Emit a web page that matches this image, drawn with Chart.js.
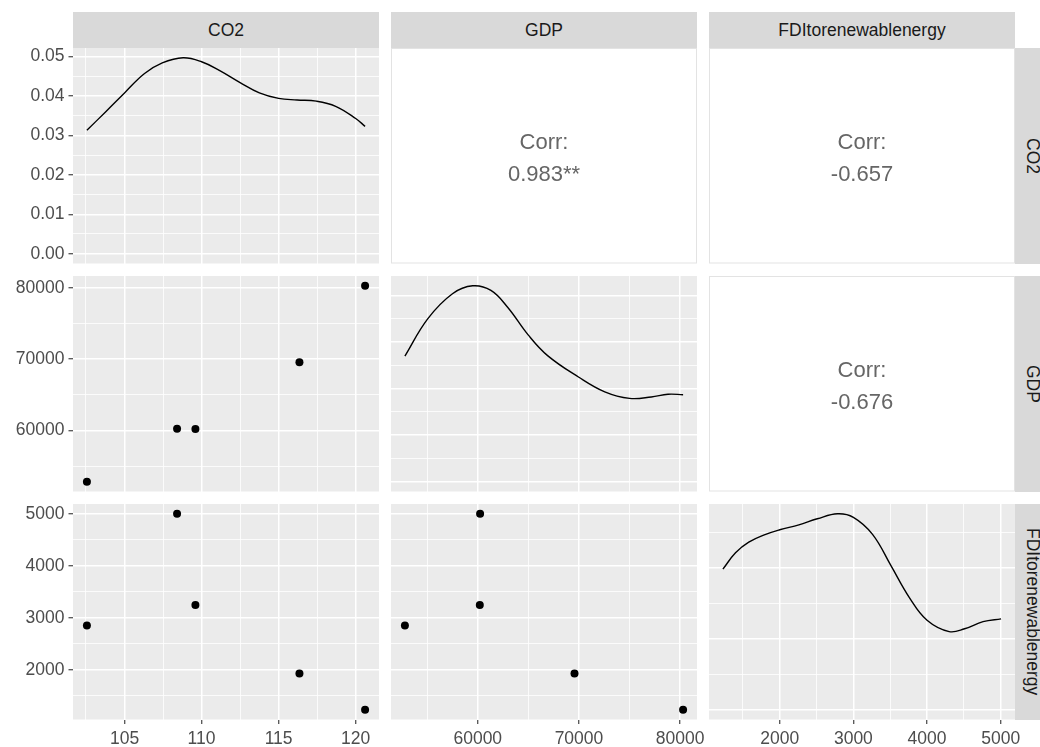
<!DOCTYPE html>
<html>
<head>
<meta charset="utf-8">
<title>Pairs plot: CO2, GDP, FDItorenewablenergy</title>
<script src="https://cdn.jsdelivr.net/npm/chart.js@4.4.1/dist/chart.umd.min.js"></script>
<style>
  html, body { margin: 0; padding: 0; background: #ffffff; overflow: hidden; }
  #wrap { position: relative; width: 1040px; height: 747px; overflow: hidden;
          font-family: "Liberation Sans", Arial, Helvetica, sans-serif; }
  #wrap canvas { position: absolute; left: 0; top: 0; }
  .strip { position: absolute; background: #D9D9D9; color: #1A1A1A; font-size: 17.5px;
           display: flex; align-items: center; justify-content: center; white-space: nowrap; }
  .strip.side { writing-mode: vertical-rl; }
</style>
</head>
<body>
<div id="wrap"></div>
<script>
// ---- variables (one value per observation) ----
const varNames = ['CO2', 'GDP', 'FDItorenewablenergy'];
const co2 = [102.56, 108.41, 109.60, 116.35, 120.61];
const gdp = [52800, 60230, 60200, 69560, 80290];
const fdi = [2854, 5005, 3245, 1929, 1229];

// correlation labels: CO2~GDP, CO2~FDI, GDP~FDI
const corrLabels = ['0.983**', '-0.657', '-0.676'];

// ---- kernel density curves shown on the diagonal ----
const co2DensX = [102.56, 103.8, 105.0, 106.3, 107.45, 108.8, 110.0, 111.15, 112.5, 113.75, 115.0, 116.2, 117.45, 118.7, 120.0, 120.61];
const co2DensY = [0.0313, 0.0361, 0.0408, 0.0457, 0.0484, 0.0497, 0.0487, 0.0465, 0.0434, 0.0408, 0.0394, 0.0390, 0.0387, 0.0374, 0.0343, 0.0323];

const gdpDensX = [52800, 55050, 57500, 59500, 61300, 62950, 65000, 66900, 69950, 72550, 75000, 77150, 78800, 80290];
const gdpDensY = [2.70e-5, 3.50e-5, 4.04e-5, 4.21e-5, 4.11e-5, 3.75e-5, 3.15e-5, 2.71e-5, 2.25e-5, 1.93e-5, 1.79e-5, 1.82e-5, 1.88e-5, 1.87e-5];

const fdiDensX = [1229, 1400, 1580, 1810, 2000, 2260, 2510, 2785, 3000, 3260, 3510, 3760, 4000, 4300, 4510, 4760, 5005];
const fdiDensY = [1.98e-4, 2.21e-4, 2.36e-4, 2.47e-4, 2.535e-4, 2.605e-4, 2.69e-4, 2.76e-4, 2.71e-4, 2.47e-4, 2.03e-4, 1.58e-4, 1.26e-4, 1.10e-4, 1.14e-4, 1.24e-4, 1.28e-4];

// ---- axis breaks and tick labels ----
const co2Breaks = [105, 110, 115, 120];
const co2Minor = [102.5, 107.5, 112.5, 117.5];
const co2Labels = ['105', '110', '115', '120'];

const gdpBreaks = [60000, 70000, 80000];
const gdpMinor = [55000, 65000, 75000];
const gdpLabels = ['60000', '70000', '80000'];

const fdiBreaks = [2000, 3000, 4000, 5000];
const fdiMinor = [1500, 2500, 3500, 4500];
const fdiLabels = ['2000', '3000', '4000', '5000'];

const co2DensBreaks = [0, 0.01, 0.02, 0.03, 0.04, 0.05];
const co2DensMinor = [0.005, 0.015, 0.025, 0.035, 0.045];
const co2DensLabels = ['0.00', '0.01', '0.02', '0.03', '0.04', '0.05'];

const gdpDensBreaks = [0, 1e-5, 2e-5, 3e-5, 4e-5];
const gdpDensMinor = [0.5e-5, 1.5e-5, 2.5e-5, 3.5e-5];

const fdiDensBreaks = [0, 1e-4, 2e-4];
const fdiDensMinor = [0.5e-4, 1.5e-4, 2.5e-4];

// ---- page geometry ----
const W = 1040, H = 747;
const colX = [[73, 379], [391, 697], [709, 1015]];
const rowY = [[48, 263.5], [276, 491.5], [504, 719.5]];
const FONT = '"Liberation Sans", Arial, Helvetica, sans-serif';

function expand(lo, hi) {
  const d = (hi - lo) * 0.05;
  return [lo - d, hi + d];
}

const series = [
  { values: co2, breaks: co2Breaks, minor: co2Minor, labels: co2Labels,
    dx: co2DensX, dy: co2DensY, dBreaks: co2DensBreaks, dMinor: co2DensMinor, dLabels: co2DensLabels },
  { values: gdp, breaks: gdpBreaks, minor: gdpMinor, labels: gdpLabels,
    dx: gdpDensX, dy: gdpDensY, dBreaks: gdpDensBreaks, dMinor: gdpDensMinor, dLabels: gdpDensBreaks.map(String) },
  { values: fdi, breaks: fdiBreaks, minor: fdiMinor, labels: fdiLabels,
    dx: fdiDensX, dy: fdiDensY, dBreaks: fdiDensBreaks, dMinor: fdiDensMinor, dLabels: fdiDensBreaks.map(String) }
];
series.forEach(s => {
  s.range = expand(Math.min(...s.values), Math.max(...s.values));
  s.dRange = expand(0, Math.max(...s.dy));
});

// panel background, border and correlation text
const panelPlugin = {
  id: 'panel',
  beforeDraw(chart, args, o) {
    const { ctx, chartArea: a } = chart;
    ctx.save();
    ctx.fillStyle = o.fill;
    ctx.fillRect(a.left, a.top, a.right - a.left, a.bottom - a.top);
    if (o.border) {
      ctx.strokeStyle = o.border;
      ctx.lineWidth = 1;
      ctx.strokeRect(a.left + 0.5, a.top + 0.5, a.right - a.left - 1, a.bottom - a.top - 1);
    }
    ctx.restore();
  },
  afterDraw(chart, args, o) {
    if (!o.title) return;
    const { ctx, chartArea: a } = chart;
    const cx = (a.left + a.right) / 2, cy = (a.top + a.bottom) / 2;
    ctx.save();
    ctx.fillStyle = '#666666';
    ctx.font = '22px ' + FONT;
    ctx.textAlign = 'center';
    ctx.textBaseline = 'middle';
    ctx.fillText(o.title, cx, cy - 13);
    ctx.fillText(o.value, cx, cy + 19);
    ctx.restore();
  }
};

function axis(dir, range, major, minor, labels, show, size) {
  const all = major.concat(minor).sort((a, b) => a - b);
  const isMajor = c => c.tick && major.indexOf(c.tick.value) >= 0;
  return {
    type: 'linear',
    position: dir === 'x' ? 'bottom' : 'left',
    min: range[0], max: range[1], bounds: 'data',
    afterBuildTicks: s => { s.ticks = all.map(v => ({ value: v })); },
    afterFit: s => {
      if (dir === 'x') s.height = show ? size : 0;
      else s.width = show ? size : 0;
    },
    border: { display: false },
    grid: {
      color: '#FFFFFF',
      lineWidth: c => isMajor(c) ? 1.5 : 0.8,
      drawTicks: show, tickLength: 4.5, tickWidth: 1.1,
      tickColor: c => isMajor(c) ? '#333333' : 'rgba(0,0,0,0)'
    },
    ticks: {
      display: show, autoSkip: false, maxRotation: 0, minRotation: 0,
      padding: dir === 'x' ? 5 : 4,
      color: '#4D4D4D', font: { family: FONT, size: 17.5 },
      callback: v => { const i = major.indexOf(v); return i >= 0 ? labels[i] : ''; }
    }
  };
}

const wrap = document.getElementById('wrap');

function panel(r, c) {
  const canvas = document.createElement('canvas');
  canvas.width = W; canvas.height = H;
  canvas.style.width = W + 'px'; canvas.style.height = H + 'px';
  wrap.appendChild(canvas);

  const showY = c === 0, showX = r === 2;
  const padding = {
    left: showY ? 0 : colX[c][0],
    right: W - colX[c][1],
    top: rowY[r][0],
    bottom: showX ? 0 : H - rowY[r][1]
  };
  const xs = series[c], ys = series[r];
  let type = 'scatter', datasets = [], scales, panelOpts;

  if (r < c) {
    // upper triangle: correlation text only
    const k = r === 0 ? (c === 1 ? 0 : 1) : 2;
    scales = { x: { display: false }, y: { display: false } };
    panelOpts = { fill: '#FFFFFF', border: '#E3E3E3', title: 'Corr:', value: corrLabels[k] };
  } else {
    const xAxis = axis('x', xs.range, xs.breaks, xs.minor, xs.labels, showX, H - rowY[r][1]);
    let yAxis;
    if (r === c) {
      type = 'line';
      datasets = [{
        data: xs.dx.map((x, i) => ({ x: x, y: xs.dy[i] })),
        borderColor: '#000000', borderWidth: 1.4, pointRadius: 0, fill: false,
        tension: 0.4
      }];
      yAxis = axis('y', xs.dRange, xs.dBreaks, xs.dMinor, xs.dLabels, showY, colX[0][0]);
    } else {
      datasets = [{
        data: xs.values.map((x, i) => ({ x: x, y: ys.values[i] })),
        backgroundColor: '#000000', borderWidth: 0, pointRadius: 4, pointHoverRadius: 4
      }];
      yAxis = axis('y', ys.range, ys.breaks, ys.minor, ys.labels, showY, colX[0][0]);
    }
    scales = { x: xAxis, y: yAxis };
    panelOpts = { fill: '#EBEBEB' };
  }

  new Chart(canvas, {
    type: type,
    data: { datasets: datasets },
    options: {
      responsive: false, animation: false, devicePixelRatio: 1, events: [],
      layout: { padding: padding },
      scales: scales,
      plugins: { legend: { display: false }, tooltip: { enabled: false }, panel: panelOpts }
    },
    plugins: [panelPlugin]
  });
}

for (let r = 0; r < 3; r++) for (let c = 0; c < 3; c++) panel(r, c);

// facet strips
varNames.forEach((name, i) => {
  const top = document.createElement('div');
  top.className = 'strip';
  top.style.left = colX[i][0] + 'px';
  top.style.top = '12px';
  top.style.width = (colX[i][1] - colX[i][0]) + 'px';
  top.style.height = '36px';
  top.textContent = name;
  wrap.appendChild(top);

  const side = document.createElement('div');
  side.className = 'strip side';
  side.style.left = '1015px';
  side.style.top = rowY[i][0] + 'px';
  side.style.width = '34px';
  side.style.height = (rowY[i][1] - rowY[i][0]) + 'px';
  side.textContent = name;
  wrap.appendChild(side);
});
</script>
</body>
</html>
